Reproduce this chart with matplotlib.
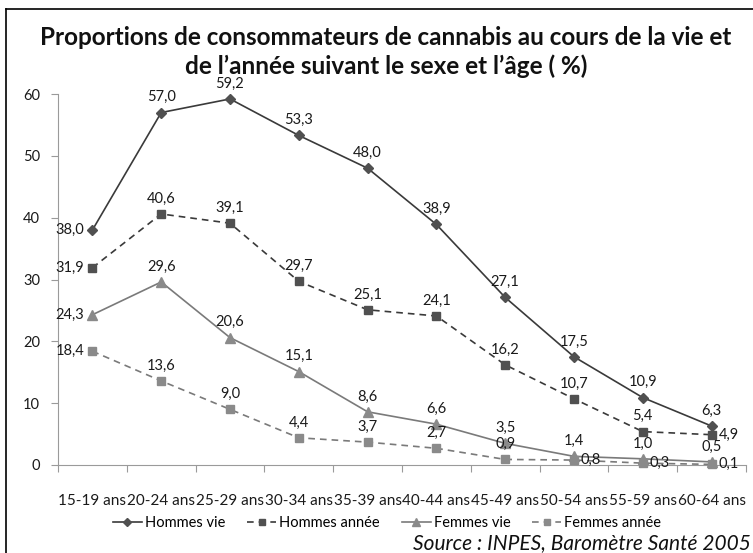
import matplotlib
matplotlib.use("Agg")
import matplotlib.pyplot as plt
from matplotlib.lines import Line2D
import numpy as np

plt.rcParams['font.family'] = ['Lato', 'DejaVu Sans']

categories = ["15-19 ans", "20-24 ans", "25-29 ans", "30-34 ans", "35-39 ans",
              "40-44 ans", "45-49 ans", "50-54 ans", "55-59 ans", "60-64 ans"]
hommes_vie = [38.0, 57.0, 59.2, 53.3, 48.0, 38.9, 27.1, 17.5, 10.9, 6.3]
hommes_annee = [31.9, 40.6, 39.1, 29.7, 25.1, 24.1, 16.2, 10.7, 5.4, 4.9]
femmes_vie = [24.3, 29.6, 20.6, 15.1, 8.6, 6.6, 3.5, 1.4, 1.0, 0.5]
femmes_annee = [18.4, 13.6, 9.0, 4.4, 3.7, 2.7, 0.9, 0.8, 0.3, 0.1]
series_names = ["Hommes vie", "Hommes année", "Femmes vie", "Femmes année"]
y_ticks = [0, 10, 20, 30, 40, 50, 60]

title = "Proportions de consommateurs de cannabis au cours de la vie et\nde l\u2019année suivant le sexe et l\u2019âge ( %)"
source = "Source : INPES, Baromètre Santé 2005"

# label placement (style): L=left, A=above, R=right
place_hv = ["L"] + ["A"] * 9
place_ha = ["L"] + ["A"] * 8 + ["R"]
place_fv = ["L"] + ["A"] * 9
place_fa = ["L"] + ["A"] * 6 + ["R"] * 3

W, H = 753, 553
fig = plt.figure(figsize=(W / 100, H / 100), dpi=100)
fig.patch.set_facecolor("white")

ax = fig.add_axes([58 / W, 1 - 465 / H, (746 - 58) / W, (465 - 94) / H])
x = np.arange(len(categories))

styles = [
    dict(data=hommes_vie, color="#3a3a3a", mfc="#505050", ls="-", marker="D", ms=5, place=place_hv),
    dict(data=hommes_annee, color="#3a3a3a", mfc="#505050", ls=(0, (4, 3)), marker="s", ms=6, place=place_ha),
    dict(data=femmes_vie, color="#7a7a7a", mfc="#8a8a8a", ls="-", marker="^", ms=7, place=place_fv),
    dict(data=femmes_annee, color="#7a7a7a", mfc="#8a8a8a", ls=(0, (4, 3)), marker="s", ms=6, place=place_fa),
]

handles = []
for name, st in zip(series_names, styles):
    ln, = ax.plot(x, st["data"], color=st["color"], ls=st["ls"], lw=1.2,
                  marker=st["marker"], ms=st["ms"], mfc=st["mfc"], mec=st["mfc"],
                  clip_on=False, zorder=3, label=name)
    handles.append(ln)
    for xi, v, p in zip(x, st["data"], st["place"]):
        s = f"{v:.1f}".replace(".", ",")
        if p == "A":
            ax.annotate(s, (xi, v), xytext=(0, 6), textcoords="offset points",
                        ha="center", va="bottom", fontsize=10.5, color="#1a1a1a", zorder=5)
        elif p == "L":
            ax.annotate(s, (xi, v), xytext=(-6, 0), textcoords="offset points",
                        ha="right", va="center", fontsize=10.5, color="#1a1a1a", zorder=5)
        else:
            ax.annotate(s, (xi, v), xytext=(5, 0), textcoords="offset points",
                        ha="left", va="center", fontsize=10.5, color="#1a1a1a", zorder=5)

ax.set_xlim(-0.5, len(categories) - 0.5)
ax.set_ylim(0, 60)
ax.set_yticks(y_ticks)
ax.set_yticklabels([str(t) for t in y_ticks], fontsize=10.5, color="#1a1a1a")
ax.set_xticks(x)
ax.set_xticklabels(categories, fontsize=11, color="#1a1a1a")
ax.set_xticks(np.arange(-0.5, len(categories) + 0.5, 1), minor=True)
ax.tick_params(axis="x", which="major", length=0, pad=21)
ax.tick_params(axis="x", which="minor", length=5, color="#9a9a9a", width=0.8)
ax.tick_params(axis="y", length=5, color="#9a9a9a", width=0.8, pad=8)
for side in ["top", "right"]:
    ax.spines[side].set_visible(False)
for side in ["left", "bottom"]:
    ax.spines[side].set_color("#9a9a9a")
    ax.spines[side].set_linewidth(0.8)

fig.text(386 / W, 1 - 52 / H, title, ha="center", va="center", fontsize=17.5,
         fontweight="bold", linespacing=1.25, color="#111111")

fig.legend(handles=handles, loc="center", bbox_to_anchor=(387 / W, 1 - 523 / H),
           ncol=4, frameon=False, fontsize=10.5, handlelength=2.0, handletextpad=0.2,
           columnspacing=1.5, markerscale=0.8, borderpad=0)

fig.text(751 / W, 1 - 543 / H, source, ha="right", va="center", fontsize=15,
         fontstyle="italic", color="#111111")

# chart border (top and left visible)
fig.add_artist(Line2D([6 / W, 6 / W], [0, 1 - 9 / H], transform=fig.transFigure, color="black", lw=1.2))
fig.add_artist(Line2D([6 / W, 1], [1 - 9 / H, 1 - 9 / H], transform=fig.transFigure, color="black", lw=1.2))

fig.savefig("out.png", dpi=100, facecolor="white")
